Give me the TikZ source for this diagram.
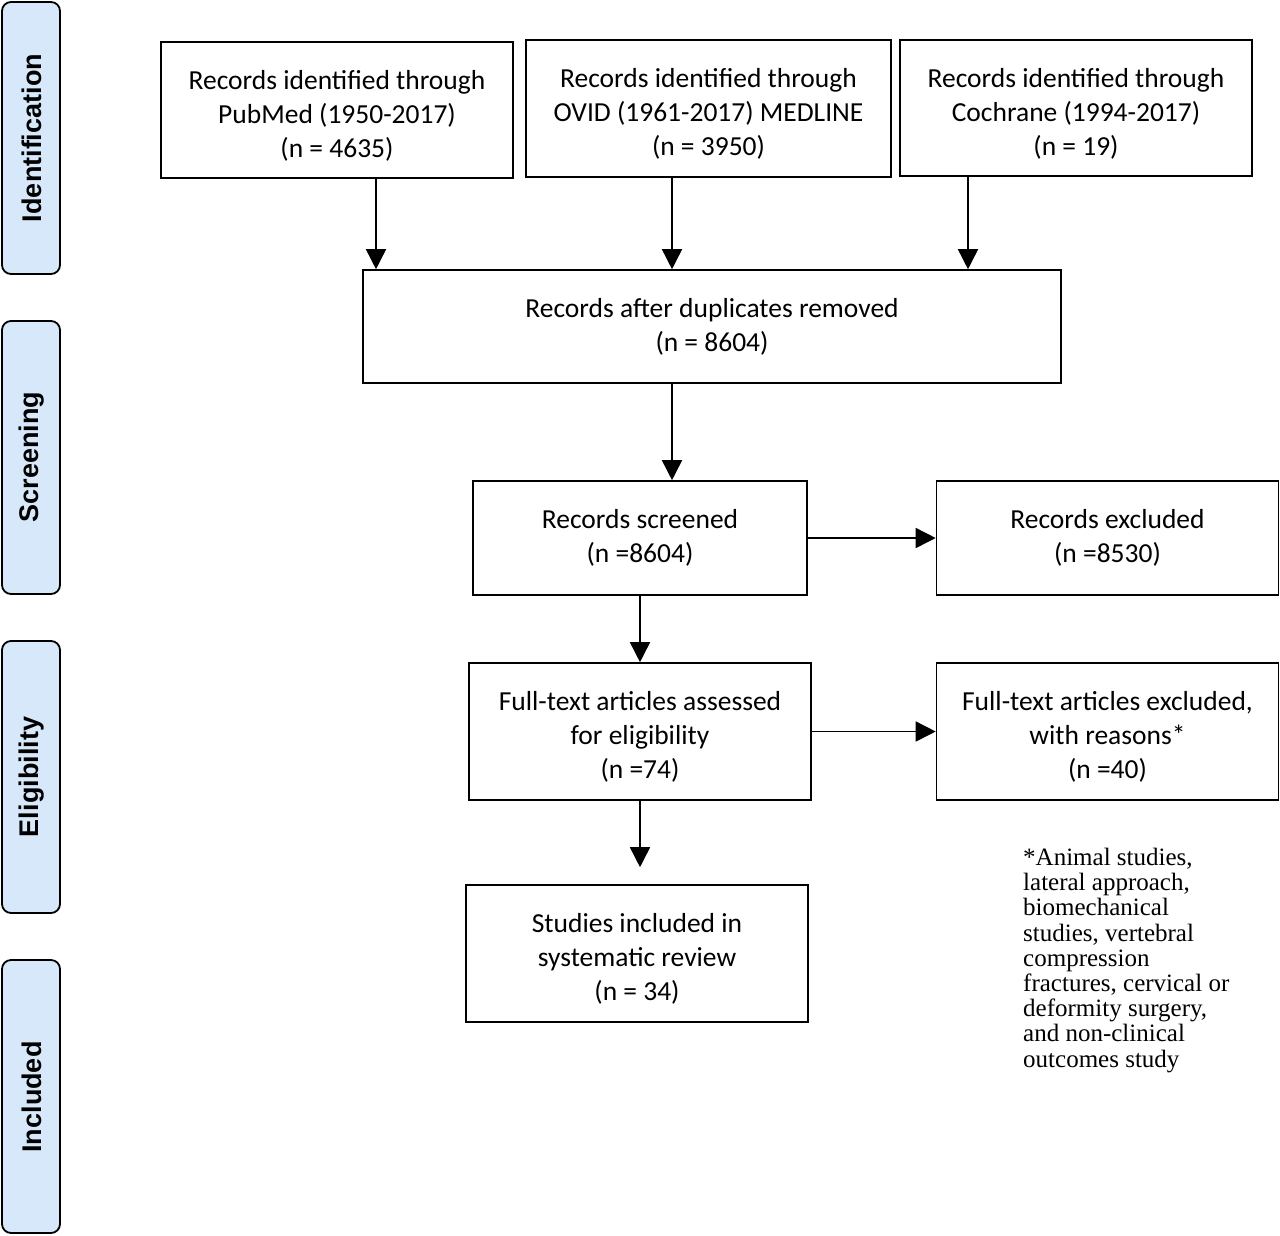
\documentclass[tikz,border=0pt]{standalone}
\usepackage{fontspec}
\setmainfont{Carlito}
\newfontfamily\sidefont{Liberation Sans}
\newfontfamily\notefont{Liberation Serif}
\usetikzlibrary{arrows.meta}
\definecolor{sideblue}{RGB}{214,232,250}
\newcommand{\topstrut}{\rule{0pt}{30pt}}
\begin{document}
\begin{tikzpicture}[x=1pt,y=-1pt,
  box/.style={draw=black,line width=1.6pt,align=center,inner sep=0pt,
    font=\fontsize{27.5}{34}\selectfont},
  side/.style={draw=black,line width=1.8pt,fill=sideblue,rounded corners=9pt},
  sidelabel/.style={rotate=90,font=\sidefont\bfseries\fontsize{27}{30}\selectfont},
  arr/.style={line width=1.6pt,-{Triangle[length=20pt,width=20pt]}}]
\useasboundingbox (0,0) rectangle (1280,1235);
% side bars
\draw[side] (2,2) rectangle (60,274);
\node[sidelabel] (lid) at (32,138) {Identification};
\draw[side] (2,321) rectangle (60,594);
\node[sidelabel] (lsc) at (32,457) {Screening};
\draw[side] (2,641) rectangle (60,913);
\node[sidelabel] (lel) at (32,777) {Eligibility};
\draw[side] (2,960) rectangle (60,1233);
\node[sidelabel] (lin) at (32,1097) {Included};
% boxes
\node[box,minimum width=352pt,minimum height=136pt] (pub) at (337,110)
  {\topstrut Records identified through\\PubMed (1950-2017)\\(n = 4635)};
\node[box,minimum width=365pt,minimum height=137pt] (ovid) at (708.5,108.5)
  {\topstrut Records identified through\\OVID (1961-2017) MEDLINE\\(n = 3950)};
\node[box,minimum width=352pt,minimum height=136pt] (coch) at (1076,108)
  {\topstrut Records identified through\\Cochrane (1994-2017)\\(n = 19)};
\node[box,minimum width=698pt,minimum height=113pt] (dup) at (712,326.5)
  {Records after duplicates removed\\(n = 8604)};
\node[box,minimum width=334pt,minimum height=114pt] (scr) at (640,538)
  {Records screened\\(n =8604)};
\node[box,minimum width=342pt,minimum height=114pt] (exc) at (1107.5,538)
  {Records excluded\\(n =8530)};
\node[box,minimum width=342pt,minimum height=137pt] (ft) at (640,731.5)
  {\topstrut Full-text articles assessed\\for eligibility\\(n =74)};
\node[box,minimum width=342pt,minimum height=137pt] (ftx) at (1107.5,731.5)
  {\topstrut Full-text articles excluded,\\with reasons*\\(n =40)};
\node[box,minimum width=342pt,minimum height=137pt] (inc) at (637,953.5)
  {\topstrut Studies included in\\systematic review\\(n = 34)};
\node[anchor=north west,align=left,inner sep=0pt,
  font=\notefont\fontsize{25}{25.2}\selectfont] (note) at (1023,848)
  {*Animal studies,\\lateral approach,\\biomechanical\\studies, vertebral\\compression\\fractures, cervical or\\deformity surgery,\\and non-clinical\\outcomes study};
% arrows
\draw[arr] (pub.south -| 376,0) -- (dup.north -| 376,0);
\draw[arr] (ovid.south -| 672,0) -- (dup.north -| 672,0);
\draw[arr] (coch.south -| 968,0) -- (dup.north -| 968,0);
\draw[arr] (dup.south -| 672,0) -- (scr.north -| 672,0);
\draw[arr] (scr.east) -- (exc.west);
\draw[arr] (scr.south -| 640,0) -- (ft.north -| 640,0);
\draw[arr] (ft.east) -- (ftx.west);
\draw[arr,shorten >=17pt] (ft.south -| 640,0) -- (inc.north -| 640,0);
\end{tikzpicture}
\end{document}
